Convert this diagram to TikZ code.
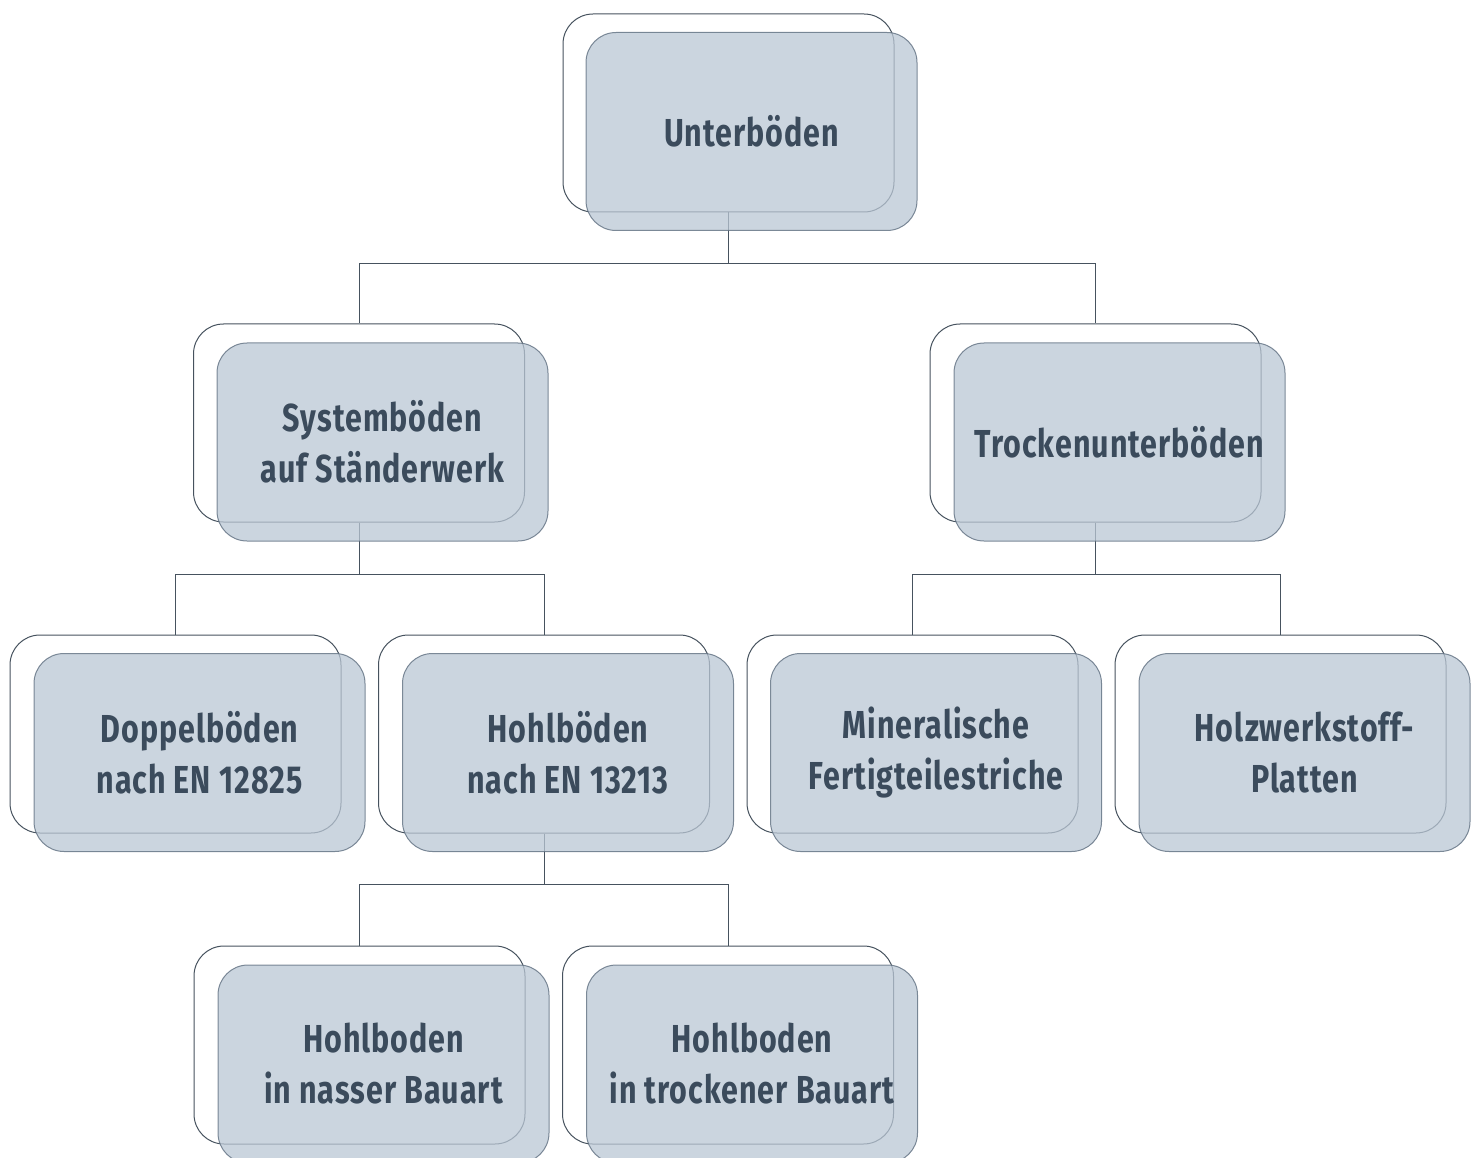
\documentclass[tikz,border=0pt]{standalone}
\usepackage{fontspec}
\newfontfamily\lblfont{Fira Sans}[FakeStretch=0.78,LetterSpace=2.5]
\definecolor{txt}{HTML}{3B4B5C}
\definecolor{edge}{HTML}{46525E}
\definecolor{fillc}{RGB}{186,199,212}
\definecolor{fedge}{HTML}{5F6F80}
\begin{document}
\begin{tikzpicture}[x=1pt,y=-1pt,
  wbox/.style={draw=edge,line width=1pt,rounded corners=30pt,minimum width=331pt,minimum height=198pt,inner sep=0pt},
  fbox/.style={draw=fedge,draw opacity=0.8,fill=fillc,fill opacity=0.75,text opacity=1,line width=1pt,rounded corners=30pt,minimum width=331pt,minimum height=198pt,inner sep=0pt,
     text=txt,align=center,font=\lblfont\bfseries\fontsize{39}{51}\selectfont},
  conn/.style={draw=edge,line width=1pt}]
\useasboundingbox (0,0) rectangle (1478,1158);
\clip (0,0) rectangle (1478,1158);
% back outline boxes
\node[wbox] (u)  at (728.5,113) {};
\node[wbox] (s)  at (359,423) {};
\node[wbox] (t)  at (1095.5,423) {};
\node[wbox] (d)  at (175.5,734) {};
\node[wbox] (h)  at (544,734) {};
\node[wbox] (m)  at (912.5,734) {};
\node[wbox] (p)  at (1280.5,734) {};
\node[wbox] (hn) at (359.5,1045) {};
\node[wbox] (ht) at (728,1045) {};
% connectors
\draw[conn] (u.south) -- ++(0,51) -| (s.north);
\draw[conn] (u.south) -- ++(0,51) -| (t.north);
\draw[conn] (s.south) -- ++(0,52) -| (d.north);
\draw[conn] (s.south) -- ++(0,52) -| (h.north);
\draw[conn] (t.south) -- ++(0,52) -| (m.north);
\draw[conn] (t.south) -- ++(0,52) -| (p.north);
\draw[conn] (h.south) -- ++(0,51) -| (hn.north);
\draw[conn] (h.south) -- ++(0,51) -| (ht.north);
% front filled boxes
\node[fbox] (uf)  at (751.5,131.5) {Unterböden};
\node[fbox] (sf)  at (382.5,442) {Systemböden\\auf Ständerwerk};
\node[fbox] (tf)  at (1119.5,442) {Trockenunterböden};
\node[fbox] (df)  at (199.5,752.5) {Doppelböden\\nach EN 12825};
\node[fbox] (hf)  at (568,752.5) {Hohlböden\\nach EN 13213};
\node[fbox] (mf)  at (936,752.5) {Mineralische\\Fertigteilestriche};
\node[fbox] (pf)  at (1304.5,752.5) {Holzwerkstoff-\\Platten};
\node[fbox] (hnf) at (383.5,1064) {Hohlboden\\in nasser Bauart};
\node[fbox] (htf) at (752,1064) {Hohlboden\\in trockener Bauart};
\end{tikzpicture}
\end{document}
